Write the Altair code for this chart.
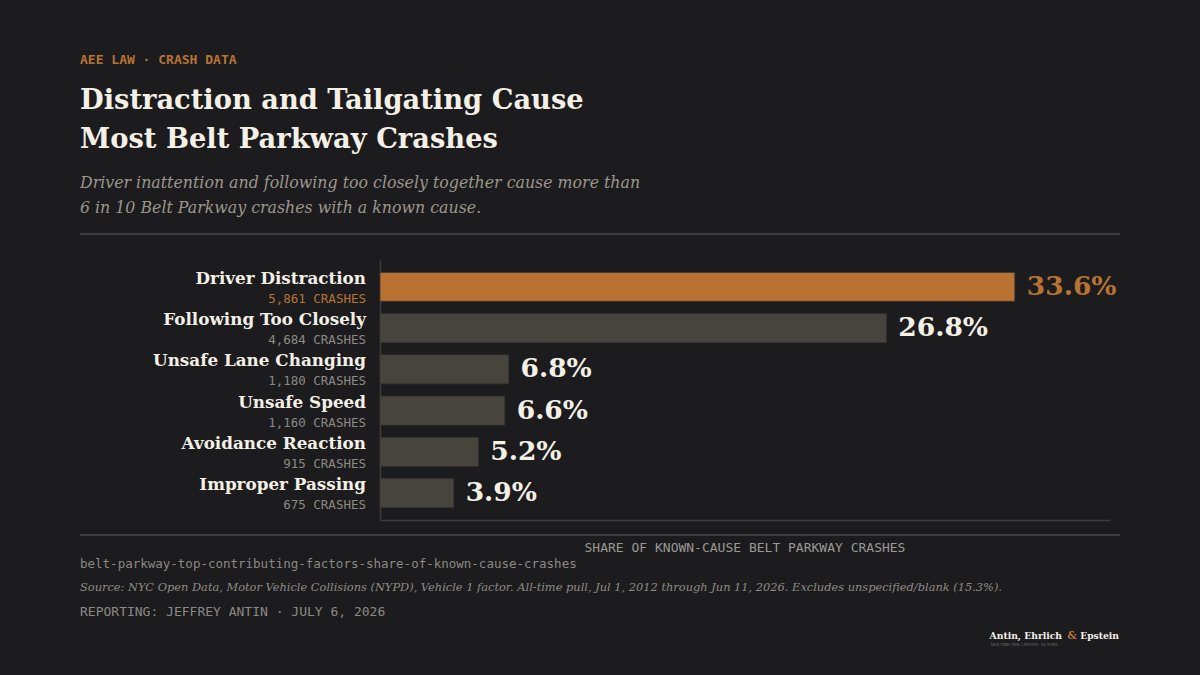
import altair as alt
import pandas as pd

# ---- data ----
causes = ["Driver Distraction", "Following Too Closely", "Unsafe Lane Changing",
          "Unsafe Speed", "Avoidance Reaction", "Improper Passing"]
shares = [33.6, 26.8, 6.8, 6.6, 5.2, 3.9]
crashes = [5861, 4684, 1180, 1160, 915, 675]

kicker = "AEE LAW · CRASH DATA"
title_lines = ["Distraction and Tailgating Cause", "Most Belt Parkway Crashes"]
subtitle_lines = ["Driver inattention and following too closely together cause more than",
                  "6 in 10 Belt Parkway crashes with a known cause."]
axis_title = "SHARE OF KNOWN-CAUSE BELT PARKWAY CRASHES"
slug = "belt-parkway-top-contributing-factors-share-of-known-cause-crashes"
source = ("Source: NYC Open Data, Motor Vehicle Collisions (NYPD), Vehicle 1 factor. "
          "All-time pull, Jul 1, 2012 through Jun 11, 2026. Excludes unspecified/blank (15.3%).")
byline = "REPORTING: JEFFREY ANTIN · JULY 6, 2026"
logo_parts = ["Antin, Ehrlich", "&", "Epstein"]
logo_sub = "NEW YORK TRIAL LAWYERS · 50 YEARS"

# ---- style ----
BG = "#1c1c1e"
ORANGE = "#b87333"
BARGRAY = "#47433d"
CREAM = "#f4f0e6"
MUTED = "#8c8984"
RULE = "#3e3d3b"
SERIF = "DejaVu Serif"
MONO = "DejaVu Sans Mono"

df = pd.DataFrame({
    "cause": causes,
    "share": shares,
    "crashes": crashes,
})
df["pct"] = df["share"].map(lambda v: f"{v:.1f}%")
df["count"] = df["crashes"].map(lambda v: f"{v:,} CRASHES")
df["top"] = [c == causes[0] for c in causes]

xmax = max(shares) * 1.15

y_enc = alt.Y("cause:N", sort=causes,
              scale=alt.Scale(paddingInner=0.3, paddingOuter=0.3),
              axis=alt.Axis(labels=False, ticks=False, title=None, grid=False,
                            domainColor=RULE, domainWidth=1.5))
x_enc = alt.X("share:Q", scale=alt.Scale(domain=[0, xmax], nice=False),
              axis=alt.Axis(labels=False, ticks=False, title=None, grid=False,
                            domainColor=RULE, domainWidth=1.5))
color_enc = alt.condition("datum.top", alt.value(ORANGE), alt.value(BARGRAY))
text_color = alt.condition("datum.top", alt.value(ORANGE), alt.value(CREAM))
count_color = alt.condition("datum.top", alt.value(ORANGE), alt.value(MUTED))

base = alt.Chart(df)

bars = base.mark_bar(stroke="#3a3733", strokeWidth=0.8).encode(
    x=x_enc, y=y_enc, color=color_enc)

values = base.mark_text(align="left", baseline="middle", dx=12, font=SERIF,
                        fontWeight="bold", fontSize=26.5).encode(
    x="share:Q", y=alt.Y("cause:N", sort=causes), text="pct:N", color=text_color)

names = base.mark_text(align="right", baseline="alphabetic", dy=-3, font=SERIF,
                       fontWeight="bold", fontSize=16.8).encode(
    x=alt.value(-14), y=alt.Y("cause:N", sort=causes), text="cause:N",
    color=alt.value(CREAM))

counts = base.mark_text(align="right", baseline="alphabetic", dy=16, font=MONO,
                        fontSize=12.5).encode(
    x=alt.value(-14), y=alt.Y("cause:N", sort=causes), text="count:N",
    color=count_color)


def txt(s, x, y, **kw):
    return alt.Chart(pd.DataFrame({"t": [s]})).mark_text(**kw).encode(
        x=alt.value(x), y=alt.value(y), text="t:N")


def hrule(y):
    return alt.Chart(pd.DataFrame({"t": [0]})).mark_rule(
        color=RULE, strokeWidth=2).encode(
        x=alt.value(-300), x2=alt.value(740), y=alt.value(y))


L = -300
layers = [
    hrule(-26), hrule(275),
    bars, values, names, counts,
    txt(kicker, L, -200, align="left", baseline="middle", font=MONO, fontSize=13,
        fontWeight="bold", color=ORANGE),
    txt(title_lines[0], L, -159, align="left", baseline="middle", font=SERIF,
        fontWeight="bold", fontSize=27.3, color=CREAM),
    txt(title_lines[1], L, -120, align="left", baseline="middle", font=SERIF,
        fontWeight="bold", fontSize=27.3, color=CREAM),
    txt(subtitle_lines[0], L, -77, align="left", baseline="middle", font=SERIF,
        fontStyle="italic", fontSize=15.8, color="#9b968d"),
    txt(subtitle_lines[1], L, -52, align="left", baseline="middle", font=SERIF,
        fontStyle="italic", fontSize=15.8, color="#9b968d"),
    txt(axis_title, 365, 288, align="center", baseline="middle", font=MONO,
        fontSize=13, color="#9a9893"),
    txt(slug, L, 304, align="left", baseline="middle", font=MONO, fontSize=12.5,
        color=MUTED),
    txt(source, L, 328, align="left", baseline="middle", font=SERIF,
        fontStyle="italic", fontSize=11.4, color="#8f8b84"),
    txt(byline, L, 352, align="left", baseline="middle", font=MONO, fontSize=13,
        color=MUTED),
    txt(logo_parts[0], 682, 376, align="right", baseline="middle", font=SERIF,
        fontWeight="bold", fontSize=9.2, color=CREAM),
    txt(logo_parts[1], 692, 376, align="center", baseline="middle", font=SERIF,
        fontWeight="bold", fontSize=10.5, color=ORANGE),
    txt(logo_parts[2], 739, 376, align="right", baseline="middle", font=SERIF,
        fontWeight="bold", fontSize=9.2, color=CREAM),
    txt(logo_sub, 611, 385, align="left", baseline="middle", font="Inter",
        fontSize=3.5, color="#77736d"),
]

chart = alt.layer(*layers).properties(
    width=730, height=260,
    padding={"left": 380, "top": 260, "right": 90, "bottom": 155},
    autosize=alt.AutoSizeParams(type="none"),
    background=BG,
).configure_view(stroke=None)

chart.save("out.html", embed_options={"renderer": "svg", "actions": False})
